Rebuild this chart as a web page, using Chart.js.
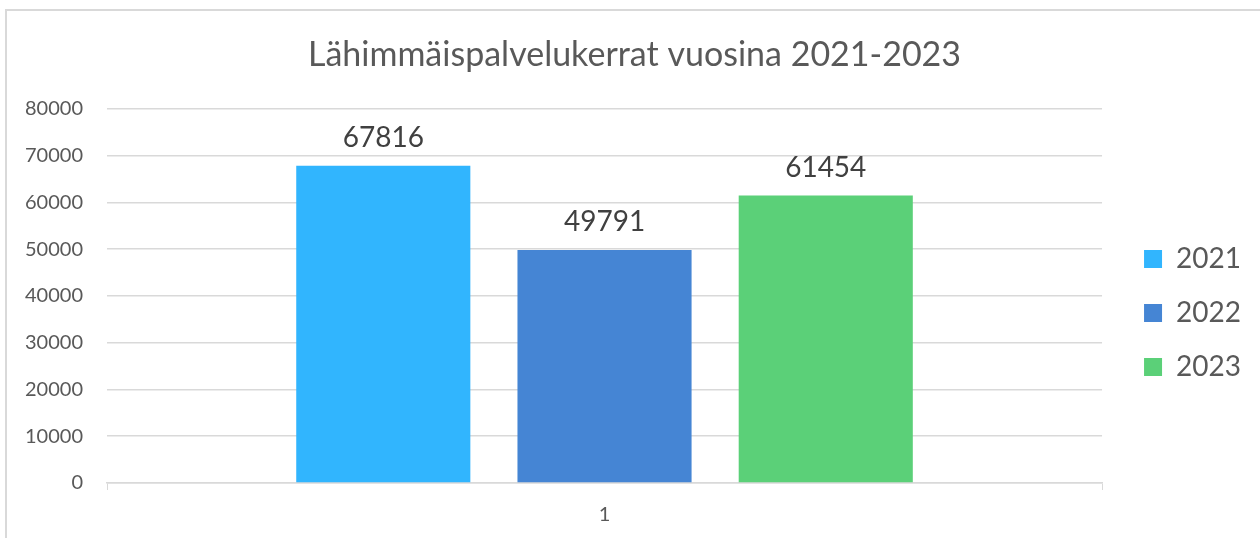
<!DOCTYPE html>
<html>
<head>
<meta charset="utf-8">
<script src="https://cdn.jsdelivr.net/npm/chart.js@4/dist/chart.umd.min.js"></script>
<style>
  html, body { margin: 0; padding: 0; background: #fff; overflow: hidden; }
  #frame { position: absolute; left: 5px; top: 9px; width: 1270px; height: 540px; border: 2px solid #d9d9d9; }
  #wrap { position: absolute; left: 0; top: 0; width: 1260px; height: 538px; }
</style>
</head>
<body>
<div id="frame"></div>
<div id="wrap"><canvas id="chart"></canvas></div>
<script>
const categories = ["1"];
const seriesNames = ["2021", "2022", "2023"];
const seriesValues = [[67816], [49791], [61454]];
const seriesColors = ["#31b5fe", "#4585d4", "#5bd078"];
const yTicks = [0, 10000, 20000, 30000, 40000, 50000, 60000, 70000, 80000];

const FONT = "Lato, 'Open Sans', sans-serif";

// value labels above bars
const valueLabels = {
  id: "valueLabels",
  afterDatasetsDraw(chart) {
    const ctx = chart.ctx;
    ctx.save();
    ctx.font = `28px ${FONT}`;
    ctx.fillStyle = "#404040";
    ctx.textAlign = "center";
    ctx.textBaseline = "middle";
    chart.data.datasets.forEach((ds, i) => {
      chart.getDatasetMeta(i).data.forEach((bar, j) => {
        ctx.fillText(String(ds.data[j]), bar.x, bar.y - 28);
      });
    });
    ctx.restore();
  }
};

new Chart(document.getElementById("chart"), {
  type: "bar",
  data: {
    labels: categories,
    datasets: seriesNames.map((name, i) => ({
      label: name,
      data: seriesValues[i],
      backgroundColor: seriesColors[i],
      categoryPercentage: 0.667,
      barPercentage: 0.787
    }))
  },
  options: {
    responsive: true,
    maintainAspectRatio: false,
    animation: false,
    layout: { padding: { left: 18, right: 9, top: 0, bottom: 0 } },
    plugins: {
      title: {
        display: true,
        text: "Lähimmäispalvelukerrat vuosina 2021-2023",
        color: "#595959",
        font: { family: FONT, size: 34, weight: "normal" },
        padding: { top: 35, bottom: 33 }
      },
      legend: {
        position: "right",
        title: { display: true, text: " ", font: { size: 10 }, padding: { top: 76, bottom: 0 } },
        labels: {
          color: "#595959",
          font: { family: FONT, size: 28 },
          boxWidth: 18,
          boxHeight: 18,
          padding: 26
        }
      },
      tooltip: { enabled: false }
    },
    scales: {
      x: {
        afterFit(scale) { scale.height = 55; },
        grid: { display: true, drawOnChartArea: false, drawTicks: true, tickLength: 7, color: "#d9d9d9" },
        border: { display: true, color: "#d9d9d9", width: 1.5 },
        ticks: { color: "#595959", font: { family: FONT, size: 20 }, padding: 13 }
      },
      y: {
        min: 0,
        max: 80000,
        afterBuildTicks(scale) { scale.ticks = yTicks.map(v => ({ value: v })); },
        afterFit(scale) { scale.width = 89; },
        grid: { color: "#d9d9d9", lineWidth: 1.5, drawTicks: false },
        border: { display: false },
        ticks: { color: "#595959", font: { family: FONT, size: 20 }, padding: 24, callback: v => String(v) }
      },
      // empty spacer between plot and legend
      gap: {
        type: "linear",
        position: "right",
        afterFit(scale) { scale.width = 16; },
        grid: { display: false },
        border: { display: false },
        ticks: { display: false }
      }
    }
  },
  plugins: [valueLabels]
});
</script>
</body>
</html>
